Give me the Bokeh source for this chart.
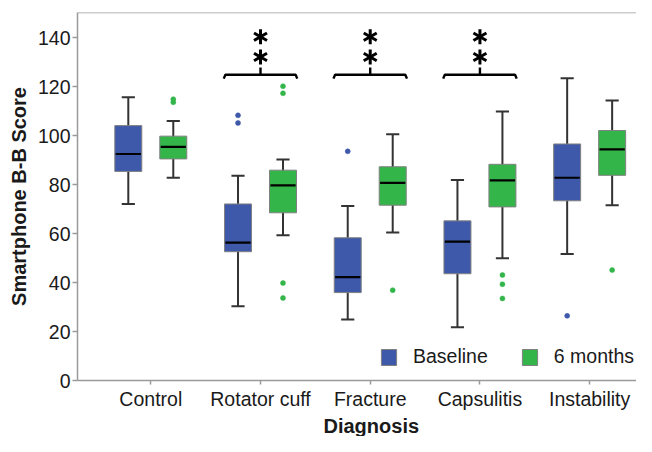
import math
from bokeh.plotting import figure
from bokeh.models import (Range1d, FixedTicker, Span, Title, Legend, LegendItem,
                          ColumnDataSource)
from bokeh.embed import file_html
from bokeh.resources import INLINE

# ---------------- data ----------------
categories = ["Control", "Rotator cuff", "Fracture", "Capsulitis", "Instability"]
y_ticks = [0, 20, 40, 60, 80, 100, 120, 140]

baseline_low = [72.1, 30.3, 24.9, 21.7, 51.7]
baseline_q1 = [85.4, 52.6, 35.9, 43.6, 73.4]
baseline_med = [92.5, 56.3, 42.2, 56.7, 82.8]
baseline_q3 = [104.1, 72.1, 58.3, 65.2, 96.6]
baseline_high = [115.7, 83.6, 71.3, 81.9, 123.4]
baseline_outliers = [[], [108.3, 105.2], [93.6], [], [26.4]]

six_low = [82.8, 59.3, 60.4, 49.9, 71.6]
six_q1 = [90.5, 68.5, 71.6, 70.9, 83.8]
six_med = [95.4, 79.7, 80.7, 81.7, 94.4]
six_q3 = [99.8, 85.9, 87.3, 88.3, 102.1]
six_high = [106.0, 90.3, 100.6, 109.9, 114.4]
six_outliers = [[114.9, 113.6], [120.2, 117.3, 39.8, 33.7], [36.9], [43.1, 39.3, 33.5], [45.1]]

sig_categories = ["Rotator cuff", "Fracture", "Capsulitis"]
sig_level = 124.9
star_levels = [132.1, 140.4]

# ---------------- styling ----------------
FONT = "Liberation Sans"
BLUE = "#3E59A9"
GREEN = "#33B54A"
AXIS = "#9a9a9a"
TEXT = "#1a1a1a"
BOX_W = 0.246
CAP_W = 0.12
OFFSET = 0.205
Y_TOP = 150.3

p = figure(width=636, height=436, output_backend="svg", toolbar_location=None,
           x_range=Range1d(-0.668, 4.427), y_range=Range1d(0, Y_TOP),
           min_border_left=77, min_border_right=0, min_border_top=12,
           min_border_bottom=54, background_fill_color="white",
           border_fill_color="white")
p.xgrid.visible = False
p.ygrid.visible = False
p.outline_line_color = None

series = [
    ("Baseline", -OFFSET, BLUE, baseline_low, baseline_q1, baseline_med,
     baseline_q3, baseline_high, baseline_outliers),
    ("6 months", OFFSET, GREEN, six_low, six_q1, six_med, six_q3, six_high,
     six_outliers),
]

legend_items = []
for name, off, color, low, q1, med, q3, high, outl in series:
    xs = [i + off for i in range(len(categories))]
    src = ColumnDataSource(dict(
        x=xs, low=low, q1=q1, med=med, q3=q3, high=high,
        cl=[x - CAP_W / 2 for x in xs], cr=[x + CAP_W / 2 for x in xs],
        bl=[x - BOX_W / 2 + 0.008 for x in xs], br=[x + BOX_W / 2 - 0.008 for x in xs],
    ))
    p.segment(x0="x", y0="low", x1="x", y1="high", source=src,
              line_color="#333333", line_width=2)
    p.segment(x0="cl", y0="low", x1="cr", y1="low", source=src,
              line_color="#333333", line_width=2)
    p.segment(x0="cl", y0="high", x1="cr", y1="high", source=src,
              line_color="#333333", line_width=2)
    box = p.vbar(x="x", width=BOX_W, bottom="q1", top="q3", source=src,
                 fill_color=color, line_color="#808080", line_width=1)
    p.segment(x0="bl", y0="med", x1="br", y1="med", source=src,
              line_color="black", line_width=2.2)
    ox, oy = [], []
    for i, vals in enumerate(outl):
        for v in vals:
            ox.append(i + off)
            oy.append(v)
    p.scatter(ox, oy, size=5, fill_color=color, line_color=color, line_width=0.5)
    legend_items.append(LegendItem(label=name, renderers=[box]))

# significance brackets
HALF = 0.335
for cat in sig_categories:
    c = categories.index(cat)
    p.line([c - HALF, c - HALF + 0.015, c + HALF - 0.015, c + HALF],
           [sig_level - 1.6, sig_level, sig_level, sig_level - 1.6],
           line_color="black", line_width=2.4)
    p.segment(x0=c, y0=sig_level, x1=c, y1=sig_level + 2.9,
              line_color="black", line_width=2.4)
    for lvl in star_levels:
        for ang in (90, 30, 150):
            p.scatter([c], [lvl], marker="dash", size=15, angle=math.radians(ang),
                      line_color="black", line_width=3)

# axes
p.yaxis.ticker = FixedTicker(ticks=y_ticks)
p.xaxis.ticker = FixedTicker(ticks=list(range(len(categories))))
p.xaxis.major_label_overrides = {i: c for i, c in enumerate(categories)}
for ax in (p.xaxis, p.yaxis):
    ax.axis_line_color = AXIS
    ax.axis_line_width = 1.5
    ax.major_tick_line_color = AXIS
    ax.major_tick_line_width = 1.5
    ax.minor_tick_line_color = None
    ax.major_tick_in = 0
    ax.major_label_text_font = FONT
    ax.major_label_text_font_size = "19.5px"
    ax.major_label_text_color = TEXT
p.yaxis.major_tick_out = 5
p.yaxis.major_label_standoff = 2
p.xaxis.major_tick_out = 4
p.xaxis.major_label_standoff = 3
p.yaxis.axis_label = "Smartphone B-B Score"
p.yaxis.axis_label_text_font = FONT
p.yaxis.axis_label_text_font_size = "20px"
p.yaxis.axis_label_text_font_style = "bold"
p.yaxis.axis_label_text_color = TEXT
p.yaxis.axis_label_standoff = 5

p.add_layout(Span(location=Y_TOP, dimension="width", line_color=AXIS, line_width=1.5))

p.add_layout(Title(text="Diagnosis", align="left", offset=246, text_font=FONT,
                   text_font_size="20px", text_font_style="bold",
                   text_color=TEXT, standoff=0), "below")

legend = Legend(items=legend_items, orientation="horizontal", location=(302, 12),
                glyph_width=19, glyph_height=20, label_height=20, label_standoff=15,
                spacing=32, padding=0, margin=0, border_line_color=None,
                background_fill_alpha=0, label_text_font=FONT,
                label_text_font_size="19.5px", label_text_color=TEXT)
p.add_layout(legend)

open("out.html", "w").write(file_html(p, INLINE))
